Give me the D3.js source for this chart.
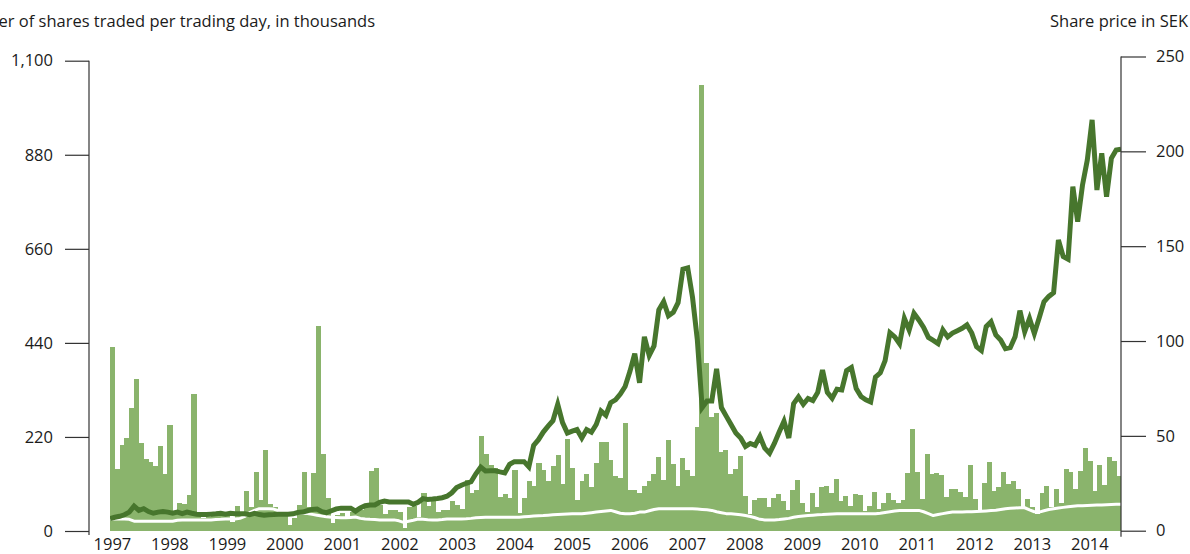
<!DOCTYPE html>
<html><head><meta charset="utf-8">
<script src="https://cdn.jsdelivr.net/npm/d3@7"></script>
<style>
html,body{margin:0;padding:0;background:#fff;}
svg{display:block;font-family:"Open Sans",sans-serif;}
</style></head><body>
<svg id="c" width="1190" height="554"></svg>
<script>
const years = [1997,1998,1999,2000,2001,2002,2003,2004,2005,2006,2007,2008,2009,2010,2011,2012,2013,2014];

// shares traded per trading day (thousands), monthly Jan 1997 - Jul 2014
const volume = [
 430,146,202,217,288,356,206,169,162,152,199,134,
 248,40,65,63,84,321,35,30,32,35,38,45,
 40,22,59,38,94,57,138,73,190,63,57,40,
 35,14,30,61,138,55,136,480,181,77,19,38,
 41,31,45,45,50,55,140,147,60,40,50,49,
 45,8,55,59,33,88,59,78,45,50,50,70,
 61,52,120,90,96,223,181,155,148,80,86,78,
 143,43,78,117,105,158,142,116,152,178,111,215,
 147,73,117,134,103,159,209,209,167,129,124,253,
 97,97,90,105,117,134,174,120,213,156,105,170,
 143,129,244,1044,392,266,275,184,190,134,144,176,
 82,40,73,78,78,55,78,86,70,50,96,120,
 66,44,88,55,103,105,88,122,71,82,59,87,
 84,47,59,91,51,66,89,73,66,73,135,239,
 138,74,181,134,135,132,80,98,98,91,80,155,
 75,48,113,162,94,102,138,109,117,98,53,74,
 55,40,88,105,56,99,66,145,137,98,141,195,
 163,94,155,108,174,164,129
];

// share price in SEK
const price = [
 6.4,7.1,7.6,8.4,9.8,13.0,10.7,11.6,10.1,9.2,9.8,10.1,
 9.8,9.2,9.8,9.0,9.8,9.2,8.7,8.5,8.5,8.7,8.9,9.2,
 8.7,9.2,8.9,9.0,8.9,8.4,9.2,8.5,8.2,8.4,8.5,8.7,
 8.7,8.7,8.9,9.6,9.8,10.5,11.2,11.4,10.0,9.5,10.5,11.5,
 11.9,11.9,11.9,10.3,12.0,13.2,13.5,13.6,15.0,15.6,15.1,15.1,
 15.1,15.1,15.1,13.9,15.0,16.9,16.5,16.7,17.0,17.4,18.2,20.0,
 22.7,24.0,25.0,25.8,30.0,33.5,31.5,31.6,31.6,31.0,30.5,35.0,
 36.4,36.4,36.4,33.7,45.0,48.0,52.0,55.1,58.0,66.6,57.0,51.5,
 52.5,53.3,48.9,53.3,51.9,56.0,63.1,60.9,67.5,69.0,72.0,76.0,
 84.0,93.3,78.0,102.2,92.4,97.4,116.4,120.7,113.3,115.1,120.2,137.9,
 138.6,123.0,100.5,64.9,68.4,68.4,85.3,64.9,60.4,56.0,51.5,48.9,
 44.4,46.0,45.0,49.7,43.5,40.9,46.0,52.0,57.7,48.9,67.0,70.5,
 66.6,69.7,68.6,72.9,84.7,72.9,69.8,74.6,74.2,84.4,86.0,75.0,
 70.7,69.0,67.9,81.0,83.2,89.7,104.4,102.2,98.6,111.9,105.8,114.6,
 111.1,107.2,101.9,100.3,98.6,105.8,102.2,104.2,105.4,106.7,108.5,104.2,
 97.0,95.0,107.6,110.1,103.2,100.5,96.0,96.5,102.2,116.0,104.9,111.9,
 104.0,112.1,120.7,123.5,125.5,153.3,144.5,143.1,181.4,162.9,182.2,195.4,
 216.6,179.6,199.0,176.1,196.3,200.7,201.1
];

// comparison index (white line), same scale as share price
const index = [
 6.2,6.2,6.2,6.2,6.0,5.0,5.0,5.0,5.0,5.0,5.0,5.0,
 5.0,5.0,5.5,5.7,5.7,5.7,5.7,5.7,5.7,5.7,5.9,6.0,
 6.2,6.2,6.2,6.5,7.5,9.5,10.7,11.6,11.6,11.6,11.4,10.5,
 9.8,9.8,9.6,9.2,9.2,9.0,8.6,8.2,7.8,7.3,7.1,7.0,
 6.8,6.8,7.0,7.2,6.5,6.2,6.0,5.9,5.7,5.7,5.7,5.7,
 5.2,4.4,5.0,5.5,6.2,6.0,5.8,5.7,5.7,5.9,6.2,6.2,
 6.2,6.2,6.3,6.5,6.8,7.0,7.1,7.1,7.1,7.1,7.1,7.1,
 7.1,7.1,7.3,7.5,7.7,7.9,8.0,8.2,8.4,8.6,8.7,8.8,
 8.9,8.9,8.9,9.2,9.5,9.8,10.1,10.4,10.7,10.0,9.2,8.9,
 8.9,9.2,9.8,9.8,10.5,11.2,11.6,11.6,11.6,11.6,11.6,11.6,
 11.6,11.6,11.4,11.2,11.0,10.7,10.0,9.5,9.0,8.9,8.7,8.4,
 8.0,7.5,6.8,6.0,5.7,5.7,5.7,5.9,6.2,6.5,7.1,7.5,
 7.8,8.0,8.2,8.4,8.5,8.7,8.8,8.9,8.9,8.9,8.9,8.9,
 8.9,8.9,8.9,8.9,9.2,9.6,10.0,10.4,10.7,10.7,10.7,10.7,
 10.7,10.0,9.0,8.0,8.5,9.0,9.5,9.8,9.8,9.9,10.0,10.0,
 10.1,10.2,10.4,10.6,10.8,11.2,11.6,11.8,12.0,12.1,12.1,11.0,
 10.0,9.8,10.5,11.2,11.6,12.0,12.3,12.6,12.9,13.1,13.2,13.3,
 13.4,13.5,13.6,13.7,13.8,13.9,13.9
];

const leftTicks = [0,220,440,660,880,1100];
const rightTicks = [0,50,100,150,200,250];
const leftTitle = "Number of shares traded per trading day, in thousands";
const rightTitle = "Share price in SEK";

const months = [];
years.forEach(y => { for (let k = 1; k <= 12; k++) months.push(y + "-" + String(k).padStart(2, "0")); });
const used = months.slice(0, volume.length);
const janTicks = years.map(y => y + "-01");

const BAR = "#8ab46c", LINE = "#47762d", AXIS = "#333", TEXT = "#1b1b1b";
const FS = 16.5;

const svg = d3.select("#c");
const x = d3.scaleBand().domain(used).range([110, 1121]).padding(0);
const xp = d3.scalePoint().domain(used).range([110, 1121]);
const yL = d3.scaleLinear().domain([0, 1100]).range([531, 60.7]);
const yR = d3.scaleLinear().domain([0, 250]).range([530.7, 56.5]);

svg.append("defs").append("clipPath").attr("id", "plot")
  .append("rect").attr("x", 110).attr("y", 0).attr("width", 1011).attr("height", 554);

const g = svg.append("g").attr("clip-path", "url(#plot)");

g.append("g").selectAll("rect").data(used).join("rect")
  .attr("x", d => x(d))
  .attr("width", x.bandwidth() + 0.3)
  .attr("y", (d, i) => yL(volume[i]))
  .attr("height", (d, i) => yL(0) - yL(volume[i]))
  .attr("fill", BAR)
  .attr("shape-rendering", "crispEdges");

const lineIdx = d3.line().x(d => xp(d)).y((d, i) => yR(index[i]));
g.append("path").datum(used).attr("d", lineIdx)
  .attr("fill", "none").attr("stroke", "#fff").attr("stroke-width", 3)
  .attr("stroke-linejoin", "round");

const linePrice = d3.line().x(d => xp(d)).y((d, i) => yR(price[i]));
g.append("path").datum(used).attr("d", linePrice)
  .attr("fill", "none").attr("stroke", LINE).attr("stroke-width", 5)
  .attr("stroke-linejoin", "miter").attr("stroke-miterlimit", 4);

// left axis
const axL = svg.append("g").attr("transform", "translate(89,0)")
  .call(d3.axisLeft(yL).tickValues(leftTicks).tickSize(24).tickSizeOuter(0).tickPadding(12).tickFormat(d3.format(",")));
axL.select(".domain").remove();
axL.append("line").attr("x1", 0).attr("x2", 0).attr("y1", yL(1100)).attr("y2", yL(0) + 4)
  .attr("stroke", AXIS).attr("stroke-width", 1.2);

// right axis
const axR = svg.append("g").attr("transform", "translate(1121,0)")
  .call(d3.axisRight(yR).tickValues(rightTicks).tickSize(25).tickSizeOuter(0).tickPadding(10));
axR.select(".domain").remove();
axR.append("line").attr("x1", 0).attr("x2", 0).attr("y1", yR(250)).attr("y2", yR(0) + 6)
  .attr("stroke", AXIS).attr("stroke-width", 1.2);

// year labels
const axB = svg.append("g").attr("transform", "translate(0,531)")
  .call(d3.axisBottom(x).tickValues(janTicks).tickSize(0).tickPadding(7).tickFormat(d => d.slice(0, 4)));
axB.select(".domain").remove();

[axL, axR, axB].forEach(a => {
  a.selectAll(".tick line").attr("stroke", AXIS).attr("stroke-width", 1.2);
  a.selectAll(".tick text").attr("fill", TEXT).style("font-size", FS + "px").style("font-family", '"Open Sans", sans-serif');
});

svg.append("text").attr("x", 375).attr("y", 27).attr("text-anchor", "end")
  .attr("fill", TEXT).style("font-size", FS + "px").text(leftTitle);
svg.append("text").attr("x", 1188).attr("y", 27).attr("text-anchor", "end")
  .attr("fill", TEXT).style("font-size", FS + "px").text(rightTitle);
</script>
</body></html>
